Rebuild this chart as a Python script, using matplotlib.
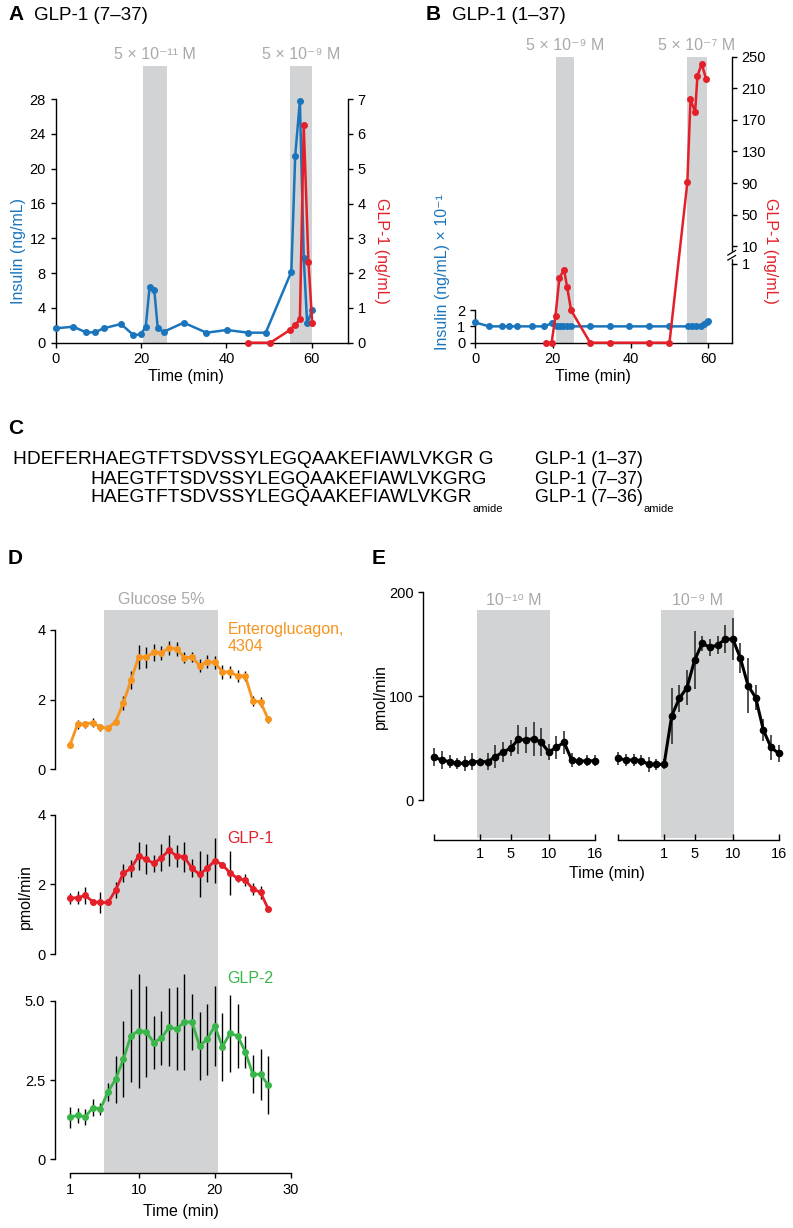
import numpy as np
import matplotlib
matplotlib.use("Agg")
import matplotlib.pyplot as plt
from matplotlib.transforms import blended_transform_factory as blend

plt.rcParams['font.family'] = ['Liberation Sans', 'DejaVu Sans']
plt.rcParams['font.size'] = 10.5
plt.rcParams['axes.linewidth'] = 1.0
plt.rcParams['xtick.major.size'] = 3.5
plt.rcParams['ytick.major.size'] = 3.5
plt.rcParams['xtick.major.width'] = 1.0
plt.rcParams['ytick.major.width'] = 1.0
plt.rcParams['xtick.labelsize'] = 10.5
plt.rcParams['ytick.labelsize'] = 10.5

# ---- colours ----
BLUE = '#1b75bc'
RED = '#e3202a'
ORANGE = '#f7941e'
GREEN = '#39b54a'
BAND = '#d1d3d4'
BAND_TXT = '#a7a9ac'

# ---- Panel A data: GLP-1 (7-37) ----
a_ins_t = [0, 4.1, 7.1, 9.2, 11.2, 15.3, 18.2, 19.9, 21.1, 22.0, 23.1, 23.9, 25.3,
           30.0, 35.3, 40.1, 45.1, 49.2, 55.2, 56.1, 57.2, 58.1, 58.9, 60.1]
a_ins = [1.65, 1.84, 1.19, 1.19, 1.65, 2.15, 0.88, 0.96, 1.84, 6.44, 6.05, 1.65, 1.26,
         2.3, 1.15, 1.46, 1.15, 1.15, 8.16, 21.45, 27.8, 9.77, 2.22, 3.75]
a_glp_t = [45.1, 50.3, 54.8, 56.1, 57.2, 58.1, 59.2, 60.1]
a_glp = [0, 0, 0.36, 0.51, 0.67, 6.25, 2.33, 0.56]
a_bands = [(20.5, 26.0), (55.0, 60.0)]
a_band_labels = ['5 × 10⁻¹¹ M', '5 × 10⁻⁹ M']

# ---- Panel B data: GLP-1 (1-37) ----
b_ins_t = [0, 3.7, 6.9, 8.7, 10.7, 14.6, 17.7, 19.7, 21.0, 21.9, 22.7, 23.6, 24.6,
           29.6, 34.7, 39.7, 44.8, 50.0, 54.8, 55.7, 56.8, 58.0, 58.9, 59.6, 60.0]
b_ins = [1.24, 1.0, 1.0, 1.0, 1.0, 1.0, 1.0, 1.18, 1.0, 1.0, 1.0, 1.0, 1.0,
         1.0, 1.0, 1.0, 1.0, 1.0, 1.0, 1.0, 1.0, 1.0, 1.14, 1.29, 1.33]
b_glp_t = [18.2, 19.7, 20.7, 21.7, 22.9, 23.7, 24.7, 29.6, 34.7, 44.8, 50.0,
           54.6, 55.4, 56.6, 57.2, 58.3, 59.4]
b_glp = [0, 0, 0.34, 0.82, 0.92, 0.70, 0.41, 0, 0, 0, 0,
         91, 196, 180, 226, 241, 222]
b_bands = [(20.7, 25.5), (54.4, 59.6)]
b_band_labels = ['5 × 10⁻⁹ M', '5 × 10⁻⁷ M']
b_right_ticks = [1, 10, 50, 90, 130, 170, 210, 250]

# ---- Panel C sequences ----
seq_rows = ['HDEFERHAEGTFTSDVSSYLEGQAAKEFIAWLVKGR G',
            'HAEGTFTSDVSSYLEGQAAKEFIAWLVKGRG',
            'HAEGTFTSDVSSYLEGQAAKEFIAWLVKGR']
seq_names = ['GLP-1 (1–37)', 'GLP-1 (7–37)', 'GLP-1 (7–36)']

# ---- Panel D data ----
d_t = [1, 2, 3, 4, 5, 6, 7, 8, 9, 10, 11, 12, 13, 14, 15, 16, 17, 18, 19, 20,
       21, 22, 23, 24, 25, 26, 27]
d_entero = [0.70, 1.30, 1.30, 1.34, 1.21, 1.18, 1.37, 1.91, 2.56, 3.22, 3.22, 3.36,
            3.35, 3.48, 3.46, 3.21, 3.22, 2.98, 3.09, 3.07, 2.80, 2.79, 2.68, 2.68,
            1.96, 1.94, 1.44]
d_entero_err = [0.1, 0.13, 0.1, 0.12, 0.1, 0.08, 0.1, 0.2, 0.25, 0.35, 0.3, 0.25,
                0.2, 0.2, 0.2, 0.15, 0.15, 0.2, 0.18, 0.18, 0.2, 0.18, 0.18, 0.15,
                0.15, 0.15, 0.1]
d_glp1 = [1.60, 1.62, 1.68, 1.50, 1.48, 1.48, 1.84, 2.32, 2.46, 2.81, 2.72, 2.60,
          2.77, 2.98, 2.81, 2.79, 2.46, 2.29, 2.46, 2.68, 2.56, 2.33, 2.17, 2.12,
          1.87, 1.77, 1.30]
d_glp1_err = [0.16, 0.18, 0.25, 0.08, 0.3, 0.08, 0.22, 0.25, 0.24, 0.41, 0.43, 0.24,
              0.39, 0.44, 0.32, 0.44, 0.26, 0.66, 0.40, 0.64, 0.07, 0.64, 0.1, 0.18,
              0.18, 0.19, 0.07]
d_glp2 = [1.32, 1.39, 1.34, 1.63, 1.59, 2.13, 2.53, 3.15, 3.90, 4.05, 4.02, 3.68,
          3.83, 4.16, 4.11, 4.33, 4.33, 3.57, 3.79, 4.20, 3.55, 3.97, 3.89, 3.39,
          2.68, 2.68, 2.34]
d_glp2_err = [0.32, 0.24, 0.26, 0.27, 0.2, 0.28, 0.74, 1.2, 1.47, 1.8, 1.43, 0.83,
              0.85, 1.23, 1.31, 1.52, 0.88, 1.07, 1.12, 1.25, 1.07, 1.22, 1.01, 0.51,
              0.6, 0.8, 0.92]
d_band = (5.5, 20.4)

# ---- Panel E data ----
e_t = [-5, -4, -3, -2, -1, 0, 1, 2, 3, 4, 5, 6, 7, 8, 9, 10, 11, 12, 13, 14, 15, 16]
e_low = [41.1, 38.5, 36.9, 35.3, 35.3, 36.9, 36.9, 36.9, 41.7, 46.2, 49.8, 58.4,
         57.8, 59.1, 55.5, 46.2, 50.7, 55.5, 38.5, 37.2, 37.9, 37.6]
e_low_err = [8.8, 8.7, 6.4, 5.6, 7.2, 8.0, 3.7, 8.0, 11.0, 9.6, 7.5, 14.0,
             12.8, 16.4, 13.6, 7.7, 11.2, 11.2, 6.4, 4.0, 5.6, 5.3]
e_high = [40.1, 38.5, 38.5, 37.9, 34.3, 34.3, 34.3, 81.2, 97.9, 108.2, 134.8, 150.9,
          147.0, 149.3, 154.7, 155.1, 136.4, 110.1, 98.6, 67.4, 50.7, 44.9]
e_high_err = [6.4, 6.0, 5.6, 5.6, 6.9, 5.6, 4.8, 27.0, 12.8, 16.9, 27.8, 7.2,
              8.0, 8.8, 13.6, 20.2, 14.4, 26.8, 11.7, 10.8, 12.0, 8.3]
e_band = (0.6, 10.2)
e_band_labels = ['10⁻¹⁰ M', '10⁻⁹ M']
e_xticks = [-5, 1, 5, 10, 16]
e_xticklabels = ['', '1', '5', '10', '16']

# ---- figure helpers ----
W, H = 793, 1228
fig = plt.figure(figsize=(W / 100, H / 100), dpi=100)


def box(l, t, r, b):
    return [l / W, 1 - b / H, (r - l) / W, (b - t) / H]


def ftext(x, y, s, **kw):
    return fig.text(x / W, 1 - y / H, s, **kw)


LBL = 11.5
TITLE = 13.5
LETTER = 15

# ================= Panel A =================
axA = fig.add_axes(box(55.7, 65.7, 347.7, 342.7))
for (b0, b1), lab in zip(a_bands, a_band_labels):
    axA.axvspan(b0, b1, color=BAND, lw=0, zorder=0)
    axA.text((b0 + b1) / 2, 1.039, lab, transform=blend(axA.transData, axA.transAxes),
             ha='center', va='center', color=BAND_TXT, fontsize=LBL)
axA.plot(a_ins_t, a_ins, '-o', color=BLUE, ms=4, lw=1.8, clip_on=False, zorder=3)
axA.set_xlim(0, 68.4)
axA.set_ylim(0, 31.83)
axA.set_yticks(np.arange(0, 29, 4))
axA.set_xticks([0, 20, 40, 60])
axA.spines['left'].set_bounds(0, 28)
axA.spines['top'].set_visible(False)
axA.spines['right'].set_visible(False)

axA2 = axA.twinx()
axA2.plot(a_glp_t, a_glp, '-o', color=RED, ms=4, lw=1.8, clip_on=False, zorder=3)
axA2.set_ylim(0, 7.96)
axA2.set_yticks(range(0, 8))
axA2.spines['right'].set_bounds(0, 7)
for s in ['left', 'top', 'bottom']:
    axA2.spines[s].set_visible(False)

ftext(19, 251, 'Insulin (ng/mL)', color=BLUE, rotation=90, ha='center', va='center', fontsize=LBL)
ftext(381, 251, 'GLP-1 (ng/mL)', color=RED, rotation=270, ha='center', va='center', fontsize=LBL)
ftext(185.8, 369, 'Time (min)', ha='center', va='top', fontsize=LBL)
ftext(8, 15, 'A', fontweight='bold', fontsize=LETTER, va='center')
ftext(34, 15, 'GLP-1 (7–37)', fontsize=TITLE, va='center')

# ================= Panel B =================
axB = fig.add_axes(box(475, 56.7, 731.7, 342.7))
for (b0, b1), lab in zip(b_bands, b_band_labels):
    axB.axvspan(b0, b1, color=BAND, lw=0, zorder=0)
    axB.text((b0 + b1) / 2, 1.04, lab, transform=blend(axB.transData, axB.transAxes),
             ha='center', va='center', color=BAND_TXT, fontsize=LBL)
axB.plot(b_ins_t, b_ins, '-o', color=BLUE, ms=4, lw=1.8, clip_on=False, zorder=3)
axB.set_xlim(0, 66)
axB.set_ylim(0, 17.51)
axB.set_yticks([0, 1, 2])
axB.set_xticks([0, 20, 40, 60])
axB.spines['left'].set_bounds(0, 2)
axB.spines['top'].set_visible(False)
axB.spines['right'].set_visible(False)

# broken right axis: 0-1 stretched, 10-250 compressed
brk_v = [-1000, 0, 1, 10, 250, 10000]
brk_p = [-238000, 0, 238, 290, 860, 860 + 9750 * 2.375]


def fwd(v):
    return np.interp(v, brk_v, brk_p)


def inv(p):
    return np.interp(p, brk_p, brk_v)


axB2 = axB.twinx()
axB2.set_yscale('function', functions=(fwd, inv))
axB2.plot(b_glp_t, b_glp, '-o', color=RED, ms=4, lw=1.8, clip_on=False, zorder=3)
axB2.set_ylim(0, 250)
axB2.set_yticks(b_right_ticks)
axB2.set_yticklabels([str(v) for v in b_right_ticks])
axB2.yaxis.set_minor_locator(matplotlib.ticker.NullLocator())
axB2.spines['right'].set_bounds(1, 250)
for s in ['left', 'top', 'bottom']:
    axB2.spines[s].set_visible(False)
# break marks on the right spine
tr = blend(axB2.transAxes, axB2.transData)
axB2.plot([1, 1], [4.2, 6.4], color='white', lw=2.5, transform=tr, clip_on=False, zorder=5)
for yc in [4.0, 6.6]:
    axB2.plot([0.985, 1.015], [yc - 1.2, yc + 1.2], color='black', lw=0.9,
              transform=tr, clip_on=False, zorder=6)
axB2.plot([1, 1], [0, 1], color='black', lw=1.0, transform=tr, clip_on=False, zorder=4)

ftext(443, 272, 'Insulin (ng/mL) × 10⁻¹', color=BLUE, rotation=90, ha='center', va='center', fontsize=LBL)
ftext(770.7, 251, 'GLP-1 (ng/mL)', color=RED, rotation=270, ha='center', va='center', fontsize=LBL)
ftext(593.3, 369, 'Time (min)', ha='center', va='top', fontsize=LBL)
ftext(426, 15, 'B', fontweight='bold', fontsize=LETTER, va='center')
ftext(451.7, 15, 'GLP-1 (1–37)', fontsize=TITLE, va='center')

# ================= Panel C =================
ftext(8, 429, 'C', fontweight='bold', fontsize=LETTER, va='center')
row_y = [460, 479, 498]
row_x = [12.7, 90.7, 90.7]
last = None
for x, y, s in zip(row_x, row_y, seq_rows):
    last = ftext(x, y, s, fontsize=13.8, va='center')
axC = fig.add_axes([0, 0, 1, 1])
axC.axis('off')
axC.annotate('amide', xy=(1, 0.15), xycoords=last, xytext=(0.5, 0),
             textcoords='offset points', va='top', ha='left', fontsize=8)
name_txt = None
for y, s in zip(row_y, seq_names):
    name_txt = ftext(535, y, s, fontsize=12.8, va='center')
axC.annotate('amide', xy=(1, 0.15), xycoords=name_txt, xytext=(0.5, 0),
             textcoords='offset points', va='top', ha='left', fontsize=8)

# ================= Panel D =================
d_xlim = (1 - 15 / 7.62, 1 + 230 / 7.62)
axbg = fig.add_axes(box(55, 610, 300, 1173))
axbg.set_xlim(*d_xlim)
axbg.axvspan(*d_band, color=BAND, lw=0)
axbg.axis('off')
axbg.text(sum(d_band) / 2, 1.018, 'Glucose 5%', transform=blend(axbg.transData, axbg.transAxes),
          ha='center', va='center', color=BAND_TXT, fontsize=LBL)

d_panels = [
    (box(55, 630, 300, 769.3), d_entero, d_entero_err, ORANGE, (0, 4), [0, 2, 4], ['0', '2', '4']),
    (box(55, 814.7, 300, 954), d_glp1, d_glp1_err, RED, (0, 4), [0, 2, 4], ['0', '2', '4']),
    (box(55, 1000.7, 300, 1159.3), d_glp2, d_glp2_err, GREEN, (0, 5), [0, 2.5, 5], ['0', '2.5', '5.0']),
]
d_axes = []
for rect, y, e, c, yl, yt, ytl in d_panels:
    ax = fig.add_axes(rect)
    ax.patch.set_visible(False)
    ax.errorbar(d_t, y, yerr=e, fmt='none', ecolor='black', elinewidth=1.0,
                capsize=0, zorder=2, clip_on=False)
    ax.plot(d_t, y, '-o', color=c, ms=4, lw=2, zorder=3, clip_on=False)
    ax.set_xlim(*d_xlim)
    ax.set_ylim(*yl)
    ax.set_yticks(yt)
    ax.set_yticklabels(ytl)
    for s in ['top', 'right', 'bottom']:
        ax.spines[s].set_visible(False)
    ax.set_xticks([])
    d_axes.append(ax)

axd3 = d_axes[2]
axd3.spines['bottom'].set_visible(True)
axd3.spines['bottom'].set_position(('outward', 9.9))
axd3.spines['bottom'].set_bounds(1, 30)
axd3.set_xticks([1, 10, 20, 30])
axd3.tick_params(axis='x', direction='out')

d_axes[0].text(21.7, 4.0, 'Enteroglucagon,', color=ORANGE, fontsize=LBL, va='center')
d_axes[0].text(21.7, 3.54, '4304', color=ORANGE, fontsize=LBL, va='center')
d_axes[1].text(21.7, 3.33, 'GLP-1', color=RED, fontsize=LBL, va='center')
d_axes[2].text(21.7, 5.69, 'GLP-2', color=GREEN, fontsize=LBL, va='center')

ftext(25, 897, 'pmol/min', rotation=90, ha='center', va='center', fontsize=LBL)
ftext(180.8, 1204, 'Time (min)', ha='center', va='top', fontsize=LBL)
ftext(8, 558, 'D', fontweight='bold', fontsize=LETTER, va='center')

# ================= Panel E =================
e_axes_spec = [
    (box(423.3, 592.3, 600, 800), (-5 - 11 / 7.633, -5 + (600 - 434.3) / 7.633), e_low, e_low_err, e_band_labels[0]),
    (box(612, 592.3, 785, 800), (-5 - 6.3 / 7.633, -5 + (785 - 618.3) / 7.633), e_high, e_high_err, e_band_labels[1]),
]
for i, (rect, xl, y, e, lab) in enumerate(e_axes_spec):
    ax = fig.add_axes(rect)
    ax.patch.set_visible(False)
    ax.axvspan(*e_band, ymin=-0.183, ymax=0.915, color=BAND, lw=0, zorder=0, clip_on=False)
    ax.text(sum(e_band) / 2, 0.96, lab, transform=blend(ax.transData, ax.transAxes),
            ha='center', va='center', color=BAND_TXT, fontsize=LBL)
    ax.errorbar(e_t, y, yerr=e, fmt='none', ecolor='#222222', elinewidth=1.1,
                capsize=0, zorder=2, clip_on=False)
    ax.plot(e_t, y, '-o', color='black', ms=4.5, lw=2.2, zorder=3, clip_on=False)
    ax.set_xlim(*xl)
    ax.set_ylim(0, 200)
    ax.spines['top'].set_visible(False)
    ax.spines['right'].set_visible(False)
    ax.spines['bottom'].set_position(('outward', 28.8))
    ax.spines['bottom'].set_bounds(-5, 16)
    ax.set_xticks(e_xticks)
    ax.set_xticklabels(e_xticklabels)
    ax.tick_params(axis='x', direction='in', length=4, pad=5)
    if i == 0:
        ax.spines['left'].set_bounds(0, 200)
        ax.set_yticks([0, 100, 200])
    else:
        ax.spines['left'].set_visible(False)
        ax.set_yticks([])

ftext(380, 696.7, 'pmol/min', rotation=90, ha='center', va='center', fontsize=LBL)
ftext(606.7, 866, 'Time (min)', ha='center', va='top', fontsize=LBL)
ftext(372, 558, 'E', fontweight='bold', fontsize=LETTER, va='center')

fig.savefig('out.png', dpi=100)
